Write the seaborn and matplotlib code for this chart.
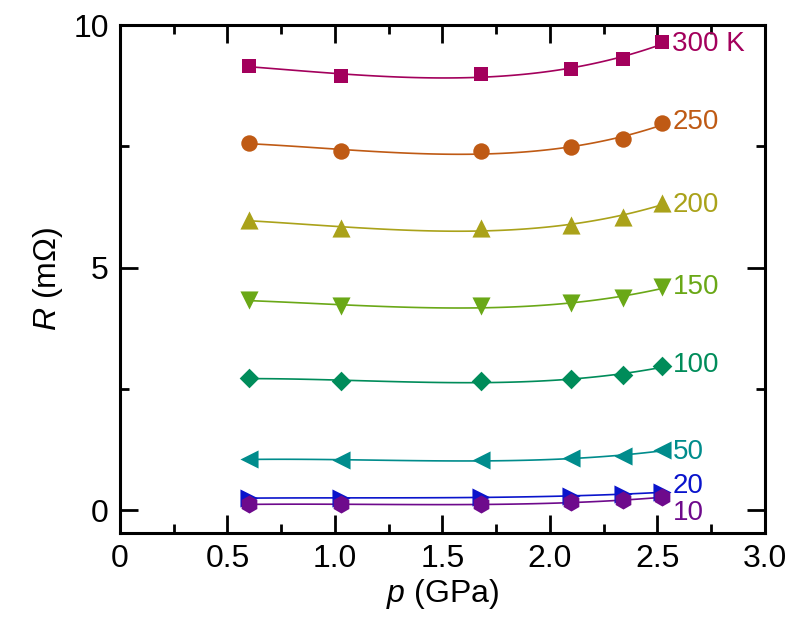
import numpy as np
import pandas as pd
import matplotlib.pyplot as plt
import seaborn as sns
from matplotlib.ticker import MultipleLocator

# Data
# --------------
pressure = [0.60, 1.03, 1.68, 2.10, 2.34, 2.52]
temps = ["300 K", "250", "200", "150", "100", "50", "20", "10"]

r_300 = [9.16, 8.95, 9.00, 9.09, 9.30, 9.65]
r_250 = [7.57, 7.40, 7.40, 7.48, 7.65, 7.98]
r_200 = [5.98, 5.81, 5.81, 5.88, 6.04, 6.33]
r_150 = [4.33, 4.21, 4.21, 4.27, 4.37, 4.60]
r_100 = [2.72, 2.66, 2.66, 2.70, 2.78, 2.97]
r_50 = [1.05, 1.03, 1.03, 1.07, 1.11, 1.24]
r_20 = [0.25, 0.25, 0.27, 0.29, 0.33, 0.37]
r_10 = [0.12, 0.12, 0.12, 0.16, 0.20, 0.27]

series = [r_300, r_250, r_200, r_150, r_100, r_50, r_20, r_10]
colors = ["#a3005c", "#bf5a14", "#aaa21a", "#6aa817", "#008c5a",
          "#008c8c", "#0a14cc", "#6e0a8c"]
markers = ["s", "o", "^", "v", "D", "<", ">", "h"]
sizes = [90, 140, 170, 170, 100, 170, 170, 170]
label_y = [9.62, 8.0, 6.3, 4.6, 3.0, 1.2, 0.5, -0.05]

# Set-up
# --------------
sns.set_theme(style="ticks")
plt.rcParams["font.family"] = ["Liberation Sans", "DejaVu Sans"]
plt.rcParams["mathtext.fontset"] = "custom"
plt.rcParams["mathtext.it"] = "Liberation Sans:italic"
plt.rcParams["mathtext.rm"] = "Liberation Sans"
plt.rcParams["text.color"] = "black"
plt.rcParams["axes.labelcolor"] = "black"
plt.rcParams["xtick.color"] = "black"
plt.rcParams["ytick.color"] = "black"

figure = plt.figure(figsize=(7.96, 6.30), dpi=100)
ax = figure.add_axes([0.1508, 0.154, 0.810, 0.806])

# Plotting
# --------------
for values, color, marker, size in zip(series, colors, markers, sizes):
    frame = pd.DataFrame({"p": pressure, "R": values})
    sns.regplot(
        data=frame, x="p", y="R", order=3, ci=None, ax=ax,
        color=color, marker=marker,
        scatter_kws={"s": size, "alpha": 1, "linewidths": 0, "zorder": 3},
        line_kws={"lw": 1.2},
    )

for name, ypos, color in zip(temps, label_y, colors):
    ax.text(2.57, ypos, name, color=color, fontsize=20, va="center", ha="left")

# Axes styling
ax.set_xlim(0, 3.0)
ax.set_ylim(-0.47, 10)
ax.xaxis.set_minor_locator(MultipleLocator(0.25))
ax.yaxis.set_major_locator(MultipleLocator(5))
ax.yaxis.set_minor_locator(MultipleLocator(2.5))
ax.set_xticks([0, 0.5, 1.0, 1.5, 2.0, 2.5, 3.0])
ax.set_xticklabels(["0", "0.5", "1.0", "1.5", "2.0", "2.5", "3.0"])
ax.tick_params(which="both", direction="in", top=True, right=True,
               labelsize=23, width=2, color="black", pad=8)
ax.tick_params(which="major", length=13)
ax.tick_params(which="minor", length=6.5)
for spine in ax.spines.values():
    spine.set_linewidth(2.2)
    spine.set_color("black")

ax.set_xlabel(r"$p$ (GPa)", fontsize=23, labelpad=2)
ax.set_ylabel(r"$R$ (m$\Omega$)", fontsize=23, labelpad=6)

# Rendering
# --------------
figure.savefig("out.png", dpi=100)
